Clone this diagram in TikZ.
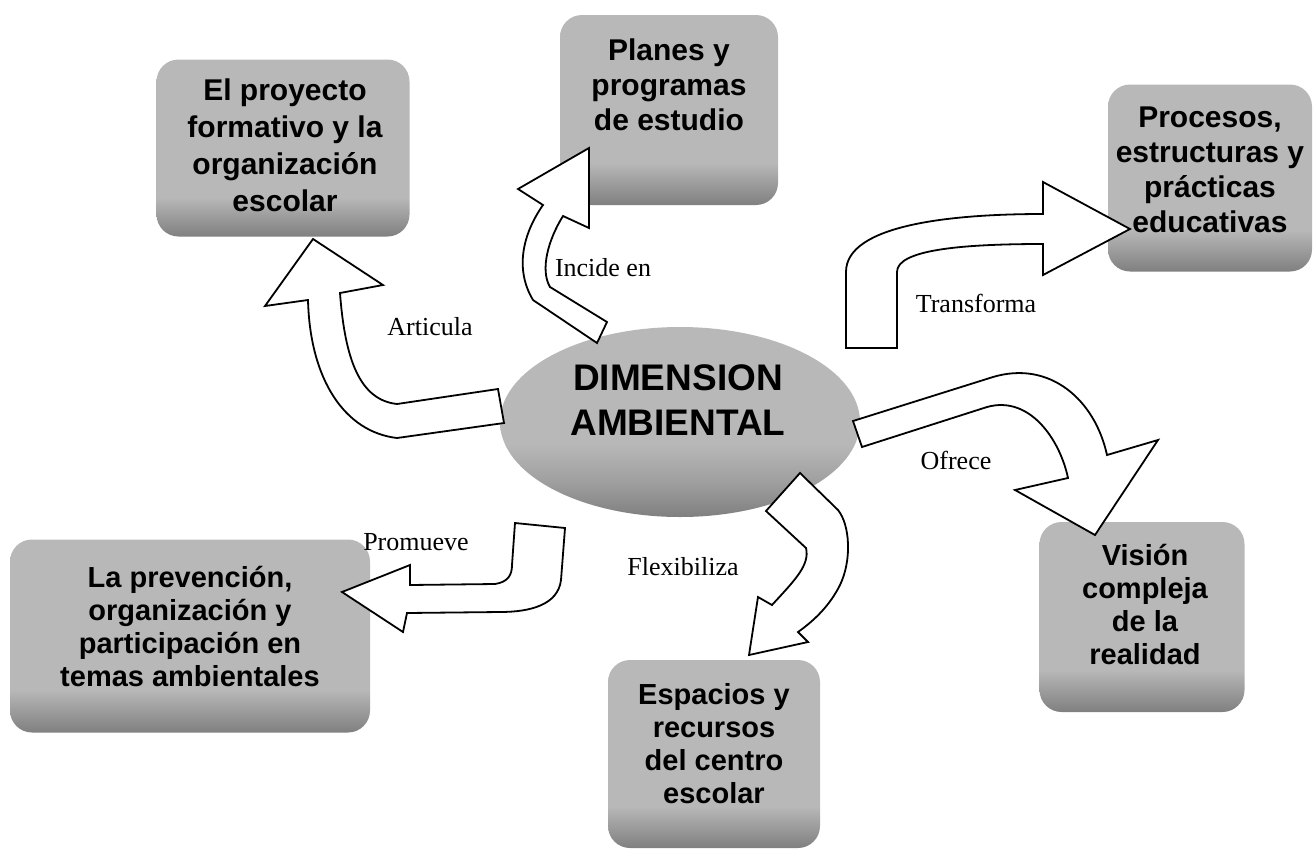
\documentclass[tikz,border=0pt]{standalone}
\usepackage{fontspec}
\setmainfont{Liberation Serif}
\newfontfamily\arialf{Liberation Sans}
\usetikzlibrary{shapes.geometric}
\definecolor{boxlight}{gray}{0.72}
\definecolor{boxmid}{gray}{0.62}
\definecolor{boxdark}{gray}{0.50}
\pgfdeclareverticalshading{boxshade}{100bp}{color(0bp)=(boxdark); color(25bp)=(boxdark); color(31bp)=(boxmid); color(36bp)=(boxlight); color(100bp)=(boxlight)}
\pgfdeclareverticalshading{ellshade}{100bp}{color(0bp)=(boxdark); color(25bp)=(boxdark); color(34bp)=(boxmid); color(44bp)=(boxlight); color(100bp)=(boxlight)}
\tikzset{
  graybox/.style={rounded corners=22pt, draw=none, inner sep=0pt, shading=boxshade},
  boxtxt/.style={align=center, inner sep=0pt,
    font=\arialf\bfseries\fontsize{29}{33}\selectfont},
  lbl/.style={inner sep=0pt, font=\fontsize{26}{28}\selectfont},
  blockarrow/.style={draw=black, fill=white, line width=1.8pt, line join=miter}
}
\begin{document}
\begin{tikzpicture}[x=1pt,y=-1pt]
\useasboundingbox (0,0) rectangle (1315,849);
% boxes
\node[graybox, minimum width=253pt, minimum height=177pt] (b1) at (283,148) {};
\node[graybox, minimum width=218pt, minimum height=190pt] (b2) at (669,110) {};
\node[graybox, minimum width=204pt, minimum height=187pt] (b3) at (1210,178) {};
\node[graybox, minimum width=360pt, minimum height=193pt] (b4) at (190,636) {};
\node[graybox, minimum width=212pt, minimum height=188pt] (b5) at (714,754) {};
\node[graybox, minimum width=205pt, minimum height=190pt] (b6) at (1142,617) {};
% ellipse
\node[ellipse, draw=none, inner sep=0pt, minimum width=360pt, minimum height=190pt,
  shading=ellshade] (dim) at (680,422) {};
% texts
\node[boxtxt, font=\arialf\bfseries\fontsize{30}{37}\selectfont] (t1) at (285,145) {El proyecto\\formativo y la\\organización\\escolar};
\node[boxtxt, font=\arialf\bfseries\fontsize{30}{35}\selectfont] (t2) at (669,85) {Planes y\\programas\\de estudio};
\node[boxtxt, font=\arialf\bfseries\fontsize{30}{35}\selectfont] (t3) at (1210,170) {Procesos,\\estructuras y\\prácticas\\educativas};
\node[boxtxt] (t4) at (190,626) {La prevención,\\organización y\\participación en\\temas ambientales};
\node[boxtxt] (t5) at (714,744) {Espacios y\\recursos\\del centro\\escolar};
\node[boxtxt] (t6) at (1145,604) {Visión\\compleja\\de la\\realidad};
\node[boxtxt, font=\arialf\bfseries\fontsize{37}{45}\selectfont] (td) at (678,400) {DIMENSION\\AMBIENTAL};
% arrows
% Articula
\draw[blockarrow] (313,239) -- (383,285) -- (340,293)
  .. controls (345,360) and (360,400) .. (397,404) -- (498,389) -- (504,423) -- (397,438)
  .. controls (345,432) and (310,380) .. (308,300) -- (265,306) -- cycle;
% Incide en
\draw[blockarrow] (589,148) -- (589,228) -- (563,216)
  .. controls (548,240) and (540,270) .. (550,287) -- (607,322) -- (597,343) -- (533,300)
  .. controls (515,270) and (522,235) .. (543,205) -- (518,189) -- cycle;
% Transforma
\draw[blockarrow] (846,348) -- (846,272)
  .. controls (846,225) and (950,214) .. (1043,214) -- (1043,182) -- (1130,229) -- (1043,275) -- (1043,244)
  .. controls (960,244) and (897,250) .. (897,272) -- (897,348) -- cycle;
% Ofrece
\draw[blockarrow] (853,421) -- (993,377)
  .. controls (1050,360) and (1095,400) .. (1107,455) -- (1158,440) -- (1095,535) -- (1015,490) -- (1068,478)
  .. controls (1060,440) and (1030,395) .. (987,407) -- (862,447) -- cycle;
% Flexibiliza
\draw[blockarrow] (800,473) -- (838,510)
  .. controls (850,525) and (852,560) .. (840,585)
  .. controls (830,605) and (815,620) .. (798,632) -- (808,642) -- (749,655) -- (758,597) -- (772,605)
  .. controls (795,580) and (810,565) .. (806,548) -- (766,511) -- cycle;
% Promueve
\draw[blockarrow] (342,592) -- (410,565) -- (410,585) -- (495,584)
  .. controls (508,582) and (512,575) .. (512,565) -- (515,523) -- (565,528) -- (561,580)
  .. controls (558,605) and (530,612) .. (500,612) -- (407,613) -- (403,632) -- cycle;
% labels
\node[lbl] (la) at (430,327) {Articula};
\node[lbl] (li) at (603,268) {Incide en};
\node[lbl] (lt) at (976,303) {Transforma};
\node[lbl] (lo) at (956,460) {Ofrece};
\node[lbl] (lp) at (416,542) {Promueve};
\node[lbl] (lf) at (683,567) {Flexibiliza};
\end{tikzpicture}
\end{document}
